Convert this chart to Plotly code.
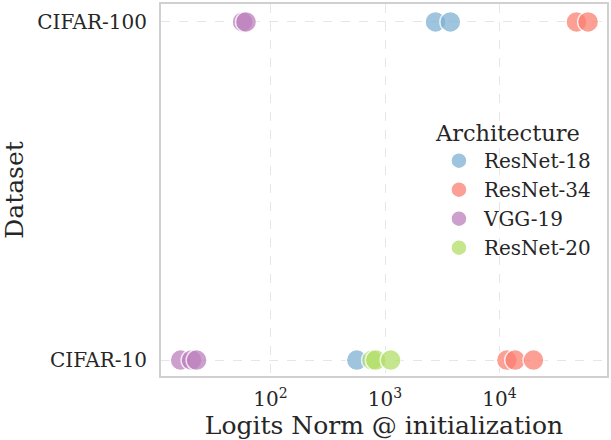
import plotly.graph_objects as go

architectures = ["ResNet-18", "ResNet-34", "VGG-19", "ResNet-20"]
colors = ["#80b1d3", "#fb8072", "#bc80bd", "#b3de69"]

# logits norm values per architecture and dataset
cifar10_vals = {
    "ResNet-18": [567],
    "ResNet-34": [11600, 13700, 19800],
    "VGG-19": [16.4, 20.4, 22.6],
    "ResNet-20": [770, 830, 1120],
}
cifar100_vals = {
    "ResNet-18": [2760, 3720],
    "ResNet-34": [47000, 59400],
    "VGG-19": [57, 61],
    "ResNet-20": [],
}

fig = go.Figure()
for arch, col in zip(architectures, colors):
    xs = cifar10_vals[arch] + cifar100_vals[arch]
    ys = ["CIFAR-10"] * len(cifar10_vals[arch]) + ["CIFAR-100"] * len(cifar100_vals[arch])
    fig.add_trace(go.Scatter(
        x=xs, y=ys, mode="markers", name=arch,
        marker=dict(size=21, color=col, opacity=0.75,
                    line=dict(color="white", width=1.5)),
    ))

font_family = "DejaVu Serif"
fig.update_layout(
    width=611, height=440,
    margin=dict(l=161, r=2, t=3, b=64),
    plot_bgcolor="white", paper_bgcolor="white",
    font=dict(family=font_family, color="#262626", size=20),
    legend=dict(
        title=dict(text="Architecture", font=dict(size=22.5)),
        font=dict(size=20),
        x=0.612, y=0.71, xanchor="left", yanchor="top",
        bgcolor="rgba(255,255,255,0)", tracegroupgap=0,
        itemsizing="trace", itemwidth=40,
    ),
    xaxis=dict(
        type="log", range=[1.043, 4.939],
        tickvals=[100, 1000, 10000],
        ticktext=["10<sup>2</sup>", "10<sup>3</sup>", "10<sup>4</sup>"],
        tickfont=dict(size=20),
        title=dict(text="Logits Norm @ initialization", font=dict(size=25), standoff=6),
        showgrid=True, gridcolor="#e6e6e6", griddash="dash", gridwidth=1,
        showline=True, linecolor="#d0d0d0", linewidth=2, mirror=True,
        zeroline=False, ticks="", ticklabelstandoff=4,
    ),
    yaxis=dict(
        type="category", categoryorder="array", categoryarray=["CIFAR-10", "CIFAR-100"],
        range=[-0.047, 1.053],
        tickfont=dict(size=20),
        title=dict(text="Dataset", font=dict(size=25), standoff=12),
        showgrid=True, gridcolor="#e6e6e6", griddash="dash", gridwidth=1,
        showline=True, linecolor="#d0d0d0", linewidth=2, mirror=True,
        zeroline=False, ticks="", ticklabelstandoff=8,
    ),
)

fig.write_html("out.html")
